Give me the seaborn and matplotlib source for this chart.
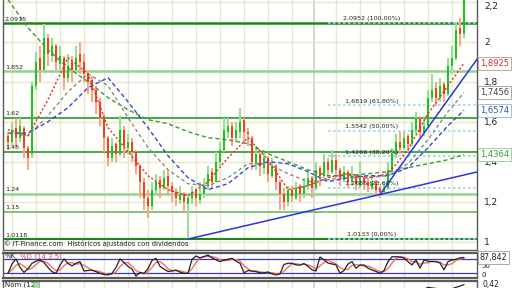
import matplotlib
matplotlib.use("Agg")
import matplotlib.pyplot as plt
import matplotlib.transforms as mtransforms
import numpy as np
import pandas as pd
import seaborn as sns

# ---------------- data ----------------
opens = [1.53, 1.50, 1.57, 1.52, 1.57, 1.47, 1.44, 1.78, 1.92, 1.86,
         2.02, 1.93, 1.98, 1.89, 1.92, 1.82, 1.90, 1.86, 1.94, 1.90,
         1.84, 1.81, 1.76, 1.70, 1.62, 1.52, 1.42, 1.49, 1.44, 1.56,
         1.47, 1.50, 1.45, 1.38, 1.30, 1.22, 1.18, 1.26, 1.31, 1.27,
         1.33, 1.28, 1.25, 1.21, 1.24, 1.19, 1.22, 1.26, 1.21, 1.24,
         1.28, 1.35, 1.30, 1.40, 1.46, 1.55, 1.58, 1.52, 1.55, 1.61,
         1.55, 1.52, 1.39, 1.44, 1.37, 1.42, 1.33, 1.38, 1.30, 1.24,
         1.20, 1.26, 1.22, 1.28, 1.24, 1.28, 1.32, 1.27, 1.37, 1.33,
         1.40, 1.35, 1.41, 1.36, 1.31, 1.35, 1.30, 1.33, 1.28, 1.32,
         1.30, 1.27, 1.30, 1.27, 1.25, 1.27, 1.36, 1.44, 1.50, 1.47,
         1.53, 1.49, 1.56, 1.62, 1.55, 1.58, 1.72, 1.77, 1.72, 1.79,
         1.74, 1.88, 1.92, 2.07, 2.04]
highs = [1.55, 1.60, 1.62, 1.62, 1.58, 1.48, 1.80, 1.95, 1.98, 2.09,
         2.04, 2.02, 1.99, 1.98, 1.93, 1.94, 1.93, 1.98, 2.00, 1.94,
         1.86, 1.83, 1.78, 1.72, 1.64, 1.53, 1.52, 1.50, 1.63, 1.58,
         1.54, 1.52, 1.46, 1.39, 1.32, 1.26, 1.30, 1.34, 1.33, 1.36,
         1.36, 1.30, 1.27, 1.28, 1.25, 1.24, 1.28, 1.27, 1.30, 1.32,
         1.38, 1.37, 1.45, 1.50, 1.62, 1.62, 1.60, 1.60, 1.67, 1.62,
         1.57, 1.53, 1.48, 1.45, 1.46, 1.43, 1.42, 1.39, 1.31, 1.27,
         1.28, 1.28, 1.30, 1.29, 1.32, 1.36, 1.33, 1.40, 1.38, 1.44,
         1.42, 1.46, 1.44, 1.37, 1.38, 1.36, 1.38, 1.34, 1.40, 1.33,
         1.32, 1.33, 1.31, 1.28, 1.30, 1.40, 1.47, 1.54, 1.55, 1.55,
         1.54, 1.60, 1.65, 1.63, 1.62, 1.76, 1.84, 1.80, 1.82, 1.80,
         1.92, 1.98, 2.10, 2.12, 2.25]
lows = [1.46, 1.48, 1.47, 1.50, 1.42, 1.36, 1.42, 1.76, 1.80, 1.85,
        1.88, 1.90, 1.86, 1.86, 1.76, 1.80, 1.80, 1.84, 1.84, 1.80,
        1.74, 1.70, 1.64, 1.58, 1.45, 1.38, 1.40, 1.40, 1.43, 1.42,
        1.44, 1.40, 1.34, 1.22, 1.16, 1.12, 1.16, 1.24, 1.22, 1.26,
        1.24, 1.20, 1.18, 1.19, 1.15, 1.0133, 1.19, 1.18, 1.19, 1.22,
        1.26, 1.27, 1.30, 1.38, 1.45, 1.52, 1.48, 1.50, 1.52, 1.50,
        1.48, 1.36, 1.36, 1.33, 1.34, 1.30, 1.32, 1.26, 1.16, 1.16,
        1.18, 1.20, 1.21, 1.20, 1.22, 1.26, 1.22, 1.26, 1.28, 1.32,
        1.32, 1.34, 1.32, 1.28, 1.30, 1.27, 1.28, 1.26, 1.27, 1.26,
        1.25, 1.26, 1.24, 1.22, 1.24, 1.26, 1.34, 1.42, 1.44, 1.46,
        1.45, 1.48, 1.54, 1.52, 1.53, 1.57, 1.70, 1.68, 1.70, 1.70,
        1.73, 1.84, 1.91, 1.98, 2.02]
closes = [1.50, 1.56, 1.52, 1.58, 1.47, 1.42, 1.78, 1.90, 1.86, 2.02,
          1.94, 1.98, 1.90, 1.93, 1.82, 1.88, 1.86, 1.92, 1.90, 1.84,
          1.80, 1.76, 1.70, 1.62, 1.52, 1.42, 1.48, 1.44, 1.56, 1.48,
          1.50, 1.45, 1.38, 1.30, 1.22, 1.18, 1.26, 1.30, 1.27, 1.32,
          1.28, 1.25, 1.22, 1.24, 1.20, 1.22, 1.25, 1.22, 1.24, 1.28,
          1.34, 1.30, 1.40, 1.46, 1.56, 1.58, 1.52, 1.56, 1.60, 1.55,
          1.54, 1.40, 1.44, 1.38, 1.42, 1.34, 1.38, 1.30, 1.24, 1.20,
          1.26, 1.23, 1.27, 1.24, 1.28, 1.32, 1.27, 1.36, 1.33, 1.40,
          1.36, 1.41, 1.36, 1.32, 1.35, 1.30, 1.33, 1.29, 1.32, 1.30,
          1.28, 1.30, 1.26, 1.25, 1.27, 1.36, 1.44, 1.50, 1.47, 1.52,
          1.49, 1.56, 1.62, 1.55, 1.58, 1.72, 1.76, 1.72, 1.78, 1.74,
          1.88, 1.92, 2.06, 2.04, 2.22]

# moving averages sampled at these trading days
ma_days = [0, 5, 10, 15, 20, 25, 30, 35, 40, 45, 50, 55, 60, 65, 70, 75,
           80, 85, 90, 95, 100, 105, 110, 114]
ma_red = [1.56, 1.53, 1.71, 1.92, 1.84, 1.57, 1.45, 1.33, 1.26, 1.23, 1.30, 1.42,
          1.52, 1.41, 1.26, 1.28, 1.32, 1.34, 1.32, 1.34, 1.46, 1.64, 1.78, 1.8925]
ma_gray = [1.543, 1.53, 1.63, 1.75, 1.84, 1.78, 1.62, 1.47, 1.36, 1.29, 1.28, 1.32,
           1.39, 1.39, 1.34, 1.30, 1.31, 1.32, 1.32, 1.33, 1.39, 1.51, 1.65, 1.7456]
ma_blue = [1.543, 1.543, 1.60, 1.67, 1.77, 1.82, 1.70, 1.57, 1.43, 1.32, 1.26, 1.29,
           1.37, 1.40, 1.39, 1.35, 1.30, 1.32, 1.33, 1.33, 1.37, 1.47, 1.58, 1.6574]
ma_green = [2.21, 2.07, 1.96, 1.87, 1.80, 1.72, 1.66, 1.61, 1.59, 1.55, 1.52, 1.51,
            1.49, 1.44, 1.40, 1.36, 1.33, 1.33, 1.34, 1.35, 1.37, 1.39, 1.41, 1.4364]
ma_labels = ["1,8925", "1,7456", "1,6574", "1,4364"]

# momentum (Nom 12)
mom = [-0.05, 0.02, 0.25, 0.28, 0.10, -0.25, -0.35, -0.40, -0.30, -0.20, -0.05, 0.15,
       0.25, 0.05, -0.20, -0.10, 0.05, 0.05, 0.0, -0.05, 0.15, 0.36, 0.30, 0.42]

# stochastic %K / %D (14,3,5), one value per trading day
stoch_k = [20, 60, 82, 45, 24, 40, 63, 72, 77, 66, 45, 27, 20, 55, 82, 62, 52, 63, 70, 30,
           32, 34, 27, 20, 15, 13, 20, 45, 82, 66, 50, 38, 8, 24, 20, 40, 75, 84, 50, 38,
           28, 30, 34, 25, 20, 20, 80, 94, 86, 92, 98, 86, 78, 70, 76, 80, 84, 72, 63, 22,
           32, 30, 27, 22, 22, 26, 18, 13, 18, 58, 63, 63, 56, 55, 62, 50, 35, 30, 90, 78,
           64, 60, 56, 20, 32, 60, 70, 42, 55, 56, 42, 34, 28, 20, 32, 70, 91, 91, 90, 85,
           70, 56, 77, 42, 77, 72, 70, 70, 64, 35, 70, 77, 80, 86, 87.842]
stoch_d = [22, 35, 54, 62, 50, 36, 42, 58, 71, 72, 63, 46, 31, 34, 52, 66, 65, 59, 62, 54,
           44, 32, 31, 27, 21, 16, 16, 26, 49, 64, 66, 51, 32, 23, 17, 28, 45, 66, 70, 57,
           39, 32, 31, 30, 26, 22, 40, 65, 87, 91, 92, 92, 87, 78, 75, 75, 80, 79, 73, 52,
           39, 28, 30, 26, 24, 23, 22, 19, 16, 30, 46, 61, 61, 58, 58, 56, 49, 38, 52, 66,
           77, 67, 60, 45, 36, 37, 54, 57, 56, 51, 51, 44, 35, 27, 27, 41, 64, 84, 91, 89,
           82, 70, 68, 58, 65, 64, 73, 71, 68, 56, 56, 61, 76, 81, 85]

# horizontal support / resistance levels
sr_levels = [2.0915, 1.852, 1.62, 1.45, 1.24, 1.15, 1.0118]
sr_labels = ["2,0915", "1,852", "1,62", "1,45", "1,24", "1,15", "1,0118"]

# fibonacci retracement levels
fib_levels = [2.0952, 1.6819, 1.5542, 1.4266, 1.2686, 1.0133]
fib_pcts = ["100,00%", "61,80%", "50,00%", "38,20%", "23,60%", "0,00%"]

# trendline anchors (day, price)
trend1 = [(45, 1.0133), (93, 1.236)]
trend2 = [(93, 1.236), (110, 1.710)]

# month boundaries (trading-day index) for the vertical grid
month_starts = [1, 7, 13, 19, 24, 30, 35, 41, 47, 53, 59, 65, 71, 82, 88, 93, 99, 105, 111]
year_start = 76.5

price_ticks = [1.0, 1.2, 1.4, 1.6, 1.8, 2.0, 2.2]
price_tick_labels = ["1", "1,2", "1,4", "1,6", "1,8", "2", "2,2"]

# ---------------- style ----------------
sns.set_theme(style="white")
plt.rcParams['font.family'] = ['DejaVu Sans']

W, H = 512, 288
fig = plt.figure(figsize=(W / 100, H / 100), dpi=100)
fig.patch.set_facecolor('white')


def frac(x0, y0, x1, y1):
    return [x0 / W, 1 - y1 / H, (x1 - x0) / W, (y1 - y0) / H]


ax = fig.add_axes(frac(3, 0, 477, 250))
ax_st = fig.add_axes(frac(3, 253, 477, 278))
ax_nm = fig.add_axes(frac(3, 281, 477, 331))

XL = (-1.25, 117.25)
grid_c = '#e7e7d4'
for a in (ax, ax_st, ax_nm):
    a.set_facecolor('#fffffb')
    a.set_xlim(*XL)
    a.set_xticks(month_starts)
    a.tick_params(axis='x', length=0, labelbottom=False)
    a.grid(axis='x', color=grid_c, lw=1.0)
    a.axvline(year_start, color='#cfcfcf', lw=1.2, zorder=0.5)
    a.set_axisbelow(True)
    for s in a.spines.values():
        s.set_color('#5a5a5a')
        s.set_linewidth(1.0)

# ---- main price panel ----
ax.set_ylim(0.9585, 2.2085)
ax.spines['top'].set_visible(False)
ax.yaxis.tick_right()
ax.set_yticks(price_ticks)
ax.set_yticklabels(price_tick_labels)
ax.tick_params(axis='y', length=0, pad=5, labelsize=6.5, labelcolor='#222222')
ax.grid(axis='y', color=grid_c, lw=1.0)
for tl in ax.get_yticklabels():
    if tl.get_text() == "2,2":
        tl.set_va('top')

days = np.arange(len(closes))
o = np.array(opens); c = np.array(closes)
h = np.array(highs); l = np.array(lows)
up = c >= o
ax.vlines(days, l, h, colors=np.where(up, '#95e095', '#ffa48c'), lw=1.5, zorder=3)
ax.bar(days, np.maximum(np.abs(c - o), 0.006), bottom=np.minimum(o, c), width=0.42,
       color=np.where(up, '#1cc41c', '#f0401c'), linewidth=0, zorder=4)

# support / resistance lines
sr_style = [('#1f861f', 1.8), ('#93d293', 1.8), ('#3d9e3d', 1.3), ('#3d9e3d', 1.3),
            ('#93d293', 1.8), ('#7cc57c', 1.4), ('#1f861f', 1.5)]
blend = mtransforms.blended_transform_factory(ax.transAxes, ax.transData)
for lvl, lab, (col, lw) in zip(sr_levels, sr_labels, sr_style):
    ax.axhline(lvl, color=col, lw=lw, zorder=2)
    ax.annotate(lab, xy=(0.004, lvl), xycoords=blend, xytext=(0, 1.2),
                textcoords='offset points', fontsize=4.6, va='bottom', ha='left',
                color='#222222', zorder=6)

# fibonacci lines
for lvl, pct in zip(fib_levels, fib_pcts):
    ax.plot([80, XL[1]], [lvl, lvl], color='#9fd3f0', lw=1.2, ls=(0, (1.5, 1.5)), zorder=2.5)
    ax.annotate(f"{lvl:.4f}".replace('.', ',') + f" ({pct})", xy=(91, lvl),
                xytext=(0, 1.2), textcoords='offset points', fontsize=4.6,
                va='bottom', ha='center', color='#222222', zorder=6)

# moving averages
ma_df = pd.DataFrame({'day': ma_days, 'red': ma_red, 'gray': ma_gray,
                      'blue': ma_blue, 'green': ma_green})
ma_style = {'green': ('#3a9a3a', (0, (3, 2))), 'blue': ('#3348d0', (0, (3, 2))),
            'gray': ('#8a8a8a', (0, (2.5, 2))), 'red': ('#e03030', (0, (1.5, 1.5)))}
for name, (col, ls) in ma_style.items():
    sns.lineplot(data=ma_df, x='day', y=name, ax=ax, color=col, lw=1.0,
                 linestyle=ls, zorder=5)

# trendlines
for (d0, p0), (d1, p1) in (trend1, trend2):
    slope = (p1 - p0) / (d1 - d0)
    ax.plot([d0, XL[1]], [p0, p0 + slope * (XL[1] - d0)], color='#2a35e0', lw=1.1, zorder=5)

ax.set_xlabel(''); ax.set_ylabel('')

# value boxes on the right
box_cols = [('#d83030', '#c8a0a0'), ('#444444', '#aaaaaa'), ('#2f55c0', '#9fc0e0'),
            ('#2f9f2f', '#a0d0a0')]
for val, lab, (tc, ec) in zip([ma_red[-1], ma_gray[-1], ma_blue[-1], ma_green[-1]],
                              ma_labels, box_cols):
    ax.text(1.006, val, lab, transform=blend, fontsize=6, color=tc, va='center',
            ha='left', clip_on=False, zorder=10,
            bbox=dict(boxstyle='square,pad=0.22', fc='white', ec=ec, lw=0.7))

ax.text(0.003, 0.026, "\u00a9 IT-Finance.com  Históricos ajustados con dividendos",
        transform=ax.transAxes, fontsize=4.9, va='center', ha='left', color='#222222')

# ---- stochastic panel ----
st_df = pd.DataFrame({'day': days, 'k': stoch_k, 'd': stoch_d})
ax_st.set_ylim(0, 107)
ax_st.set_yticks([])
for lvl in (80, 20):
    ax_st.axhline(lvl, color='#3535c8', lw=0.9, zorder=2)
sns.lineplot(data=st_df, x='day', y='d', ax=ax_st, color='#f07070', lw=1.0, zorder=3)
sns.lineplot(data=st_df, x='day', y='k', ax=ax_st, color='#222222', lw=0.9, zorder=4)
ax_st.set_xlabel(''); ax_st.set_ylabel('')
ax_st.spines['top'].set_linewidth(1.6)
ax_st.spines['bottom'].set_linewidth(1.6)
ax_st.text(0.004, 0.86, "%K", transform=ax_st.transAxes, fontsize=5, color='#222222',
           va='center', ha='left', zorder=6)
ax_st.text(0.036, 0.86, "%D (14,3,5)", transform=ax_st.transAxes, fontsize=5,
           color='#e05050', va='center', ha='left', zorder=6)
st_blend = mtransforms.blended_transform_factory(ax_st.transAxes, ax_st.transData)
ax_st.text(1.01, 51, "50", transform=st_blend, fontsize=5, va='center', ha='left',
           color='#222222', clip_on=False)
ax_st.text(1.01, 11, "0", transform=st_blend, fontsize=5, va='center', ha='left',
           color='#222222', clip_on=False)
ax_st.text(1.006, stoch_k[-1], f"{stoch_k[-1]:.3f}".replace('.', ','), transform=st_blend,
           fontsize=5.8, va='center', ha='left', color='#222222', clip_on=False, zorder=10,
           bbox=dict(boxstyle='square,pad=0.2', fc='white', ec='#aaaaaa', lw=0.7))

# ---- momentum panel ----
ax_nm.set_ylim(-0.6, 0.5)
ax_nm.set_yticks([])
nm_df = pd.DataFrame({'day': ma_days, 'mom': mom})
sns.lineplot(data=nm_df, x='day', y='mom', ax=ax_nm, color='#222222', lw=0.9)
ax_nm.set_xlabel(''); ax_nm.set_ylabel('')
ax_nm.spines['top'].set_linewidth(1.6)
ax_nm.text(0.004, 0.93, "Nom (12)", transform=ax_nm.transAxes, fontsize=5,
           color='#222222', va='center', ha='left')
ax_nm.add_patch(plt.Rectangle((0.064, 0.86), 0.012, 0.12, transform=ax_nm.transAxes,
                              fc='#a8dca8', ec='#70b070', lw=0.5, zorder=5))
nm_blend = mtransforms.blended_transform_factory(ax_nm.transAxes, ax_nm.transData)
ax_nm.text(1.012, mom[-1], f"{mom[-1]:.2f}".replace('.', ','), transform=nm_blend,
           fontsize=5.5, va='center', ha='left', color='#222222', clip_on=False)

fig.savefig("out.png", dpi=100, facecolor='white')
